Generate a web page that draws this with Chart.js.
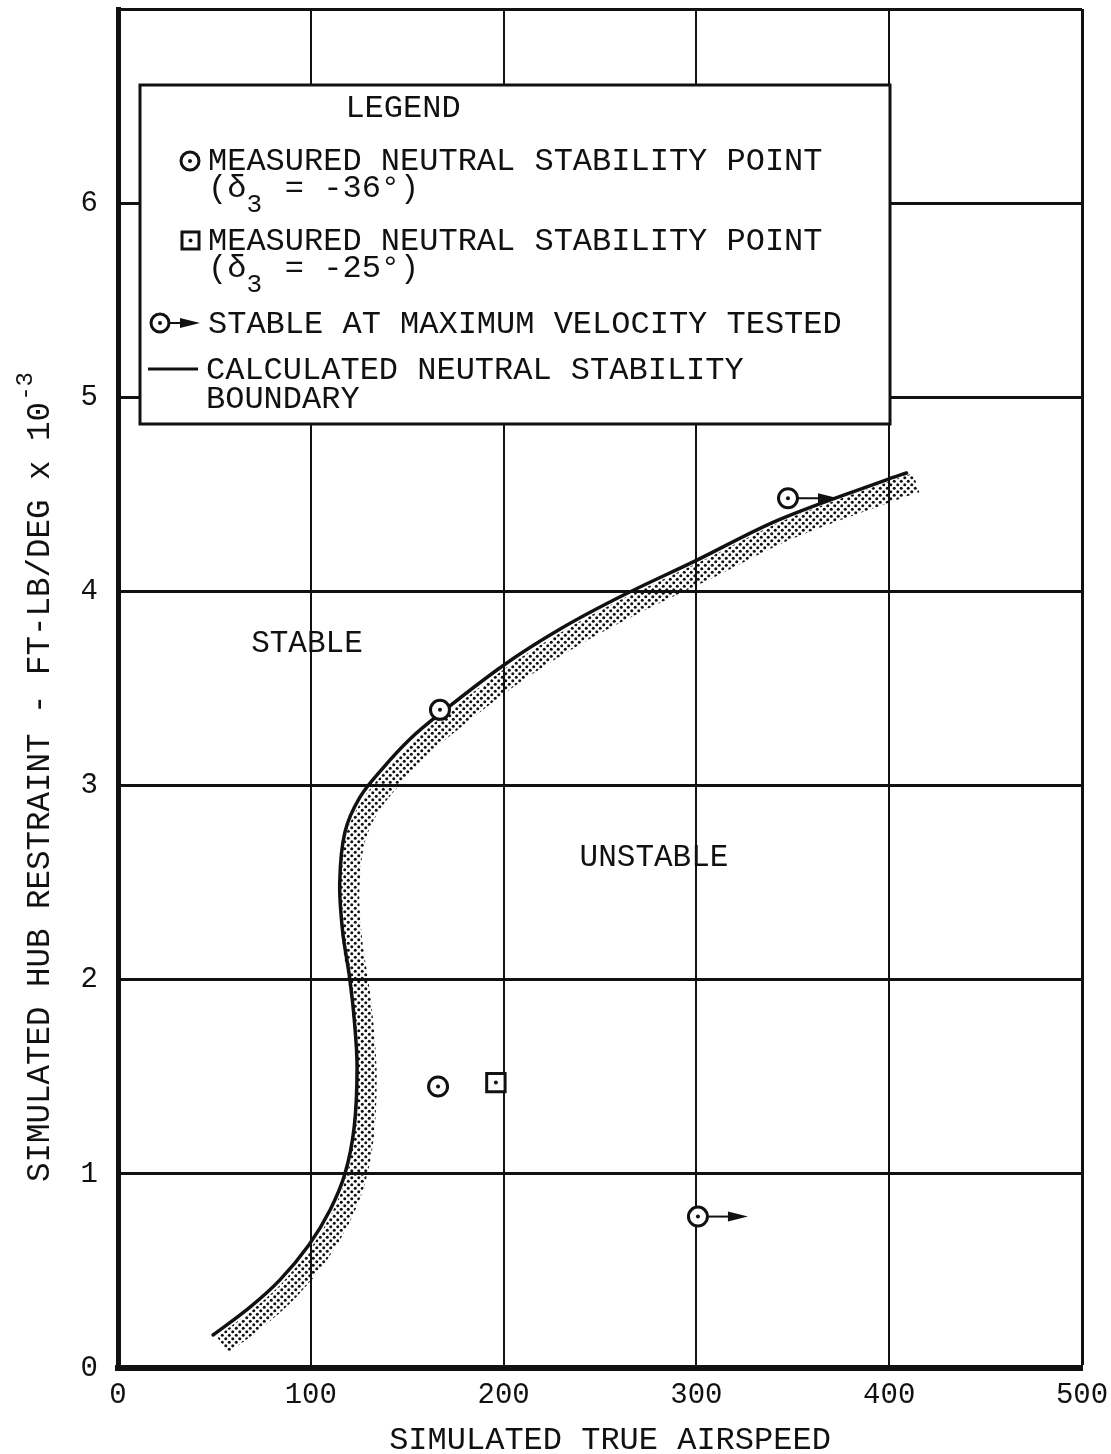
<!DOCTYPE html>
<html>
<head>
<meta charset="utf-8">
<script src="https://cdn.jsdelivr.net/npm/chart.js@4.4.1/dist/chart.umd.min.js"></script>
<style>
  html, body { margin: 0; padding: 0; background: #fff; }
  #wrap { width: 1111px; height: 1454px; }
</style>
</head>
<body>
<div id="wrap"><canvas id="hubChart" width="1111" height="1454"></canvas></div>
<script>
// calculated neutral stability boundary
let boundaryX = [49.3, 68.5, 84, 99, 110, 117.7, 122.5, 124, 122.5, 120, 116.5, 115, 117.7, 125.5, 137.4, 151.5, 167, 200, 230, 262, 300, 343, 400, 409]
let boundaryY = [0.17, 0.314, 0.454, 0.634, 0.814, 1.0, 1.24, 1.55, 1.8, 2.02, 2.25, 2.5, 2.76, 2.94, 3.09, 3.24, 3.37, 3.62, 3.81, 3.98, 4.16, 4.37, 4.58, 4.61]

// measured neutral stability points, delta3 = -36 deg
let measured36X = [167, 166]
let measured36Y = [3.39, 1.45]
// measured neutral stability points, delta3 = -25 deg
let measured25X = [196]
let measured25Y = [1.47]
// stable at maximum velocity tested
let stableX = [347.5, 300.8]
let stableY = [4.48, 0.78]

let xTicks = [0, 100, 200, 300, 400, 500]
let yTicks = [0, 1, 2, 3, 4, 5, 6]

const MONO = '"Liberation Mono", "DejaVu Sans Mono", monospace'
const INK = '#111'

function pts(xs, ys) {
  return xs.map((x, i) => ({ x: x, y: ys[i] }))
}

// stippled band on the unstable side of the boundary
let bandShiftX = 5
let bandShiftY = -0.05
let bandData = boundaryX.map((x, i) => ({ x: x + bandShiftX, y: boundaryY[i] + bandShiftY }))

let dotCanvas = document.createElement('canvas')
dotCanvas.width = 7
dotCanvas.height = 7
let dctx = dotCanvas.getContext('2d')
dctx.fillStyle = INK
dctx.beginPath(); dctx.arc(1.75, 1.75, 1.5, 0, Math.PI * 2); dctx.fill()
dctx.beginPath(); dctx.arc(5.25, 5.25, 1.5, 0, Math.PI * 2); dctx.fill()
let dotPattern = dctx.createPattern(dotCanvas, 'repeat')

function drawArrow(ctx, x, y, len) {
  ctx.save()
  ctx.strokeStyle = INK
  ctx.fillStyle = INK
  ctx.lineWidth = 2
  ctx.beginPath()
  ctx.moveTo(x + 10, y)
  ctx.lineTo(x + len - 16, y)
  ctx.stroke()
  ctx.beginPath()
  ctx.moveTo(x + len - 20, y - 5)
  ctx.lineTo(x + len, y)
  ctx.lineTo(x + len - 20, y + 5)
  ctx.closePath()
  ctx.fill()
  ctx.restore()
}

function ringMarker(ctx, x, y) {
  ctx.save()
  ctx.strokeStyle = INK
  ctx.fillStyle = '#fff'
  ctx.lineWidth = 3
  ctx.beginPath(); ctx.arc(x, y, 9, 0, Math.PI * 2); ctx.fill(); ctx.stroke()
  ctx.fillStyle = INK
  ctx.beginPath(); ctx.arc(x, y, 2, 0, Math.PI * 2); ctx.fill()
  ctx.restore()
}

function deltaLine(ctx, x, y, angle) {
  let cw = ctx.measureText('M').width
  ctx.fillText('(\u03b4', x, y)
  ctx.save()
  ctx.font = '26px ' + MONO
  ctx.fillText('3', x + 2 * cw, y + 16)
  ctx.restore()
  ctx.fillText(' = -' + angle + '\u00b0)', x + 3 * cw, y)
}

const decorPlugin = {
  id: 'decor',
  afterDatasetsDraw(chart) {
    let ctx = chart.ctx
    let xs = chart.scales.x, ys = chart.scales.y
    stableX.forEach((v, i) => {
      drawArrow(ctx, xs.getPixelForValue(v), ys.getPixelForValue(stableY[i]), 50)
    })
    ctx.save()
    ctx.fillStyle = INK
    ctx.font = '31px ' + MONO
    ctx.textAlign = 'center'
    ctx.textBaseline = 'middle'
    ctx.fillText('STABLE', xs.getPixelForValue(98), ys.getPixelForValue(3.73))
    ctx.fillText('UNSTABLE', xs.getPixelForValue(278), ys.getPixelForValue(2.63))
    ctx.restore()
  },
  afterDraw(chart) {
    let ctx = chart.ctx
    ctx.save()
    ctx.fillStyle = INK
    ctx.textBaseline = 'middle'
    ctx.font = '32px ' + MONO

    // axis titles
    ctx.textAlign = 'center'
    ctx.fillText('SIMULATED TRUE AIRSPEED', 610, 1441)
    ctx.save()
    ctx.translate(40, 1182)
    ctx.rotate(-Math.PI / 2)
    ctx.textAlign = 'left'
    ctx.font = '32.5px ' + MONO
    let yTitle = 'SIMULATED HUB RESTRAINT - FT-LB/DEG x 10'
    ctx.fillText(yTitle, 0, 0)
    let w = ctx.measureText(yTitle).width
    ctx.font = '24px ' + MONO
    ctx.fillText('-3', w + 1, -14)
    ctx.restore()

    // legend box
    ctx.fillStyle = '#fff'
    ctx.fillRect(140, 85, 750, 339)
    ctx.strokeStyle = INK
    ctx.lineWidth = 3
    ctx.strokeRect(140, 85, 750, 339)
    ctx.fillStyle = INK
    ctx.textAlign = 'center'
    ctx.fillText('LEGEND', 403, 109)
    ctx.textAlign = 'left'

    ringMarker(ctx, 190, 161)
    ctx.fillText('MEASURED NEUTRAL STABILITY POINT', 208, 162)
    deltaLine(ctx, 208, 189, '36')

    ctx.save()
    ctx.lineWidth = 3
    ctx.strokeRect(182, 232, 17, 17)
    ctx.beginPath(); ctx.arc(190.5, 240.5, 2, 0, Math.PI * 2); ctx.fill()
    ctx.restore()
    ctx.fillText('MEASURED NEUTRAL STABILITY POINT', 208, 242)
    deltaLine(ctx, 208, 269, '25')

    ringMarker(ctx, 160, 323)
    drawArrow(ctx, 160, 323, 40)
    ctx.fillText('STABLE AT MAXIMUM VELOCITY TESTED', 208, 325)

    ctx.lineWidth = 3
    ctx.beginPath(); ctx.moveTo(148, 369); ctx.lineTo(198, 369); ctx.stroke()
    ctx.fillText('CALCULATED NEUTRAL STABILITY', 206, 371)
    ctx.fillText('BOUNDARY', 206, 400)
    ctx.restore()
  }
}

let ctx = document.getElementById('hubChart').getContext('2d')
let hubChart = new Chart(ctx, {
  type: 'scatter',
  data: {
    datasets: [
      {
        label: 'centres',
        data: pts(measured36X.concat(measured25X, stableX), measured36Y.concat(measured25Y, stableY)),
        pointRadius: 2, pointBackgroundColor: INK, pointBorderWidth: 0,
        order: 0
      },
      {
        label: 'measured -36',
        data: pts(measured36X, measured36Y),
        pointStyle: 'circle', pointRadius: 9.5, pointBorderWidth: 3,
        pointBorderColor: INK, pointBackgroundColor: '#fff',
        order: 1
      },
      {
        label: 'stable',
        data: pts(stableX, stableY),
        pointStyle: 'circle', pointRadius: 9.5, pointBorderWidth: 3,
        pointBorderColor: INK, pointBackgroundColor: '#fff',
        order: 1
      },
      {
        label: 'measured -25',
        data: pts(measured25X, measured25Y),
        pointStyle: 'rect', pointRadius: 13, pointBorderWidth: 3,
        pointBorderColor: INK, pointBackgroundColor: '#fff',
        order: 1
      },
      {
        label: 'boundary',
        data: pts(boundaryX, boundaryY),
        showLine: true, borderColor: INK, borderWidth: 3.5,
        pointRadius: 0, tension: 0.35, borderCapStyle: 'round',
        order: 2
      },
      {
        label: 'band',
        data: bandData,
        showLine: true, borderColor: dotPattern, borderWidth: 20,
        pointRadius: 0, tension: 0.35,
        order: 3
      }
    ]
  },
  options: {
    responsive: false,
    animation: false,
    devicePixelRatio: 1,
    layout: { autoPadding: false, padding: { top: 9, right: 29, left: 0, bottom: 0 } },
    plugins: { legend: { display: false }, tooltip: { enabled: false } },
    scales: {
      x: {
        type: 'linear', min: 0, max: 500,
        afterFit(scale) {
          scale.height = 86
          scale.paddingLeft = 0
          scale.paddingRight = 0
        },
        afterBuildTicks(scale) { scale.ticks = xTicks.map(v => ({ value: v })) },
        ticks: {
          color: INK, padding: 10,
          font: { family: MONO, size: 29 },
          callback: v => String(v)
        },
        grid: {
          color: INK, drawTicks: false,
          lineWidth: c => (c.tick && c.tick.value === 500 ? 3 : 2)
        },
        border: { color: INK, width: 6 }
      },
      y: {
        type: 'linear', min: 0, max: 7,
        afterFit(scale) {
          scale.width = 118
          scale.paddingTop = 0
          scale.paddingBottom = 0
        },
        afterBuildTicks(scale) { scale.ticks = yTicks.concat([7]).map(v => ({ value: v })) },
        ticks: {
          color: INK, padding: 20,
          font: c => ({ family: MONO, size: (c.tick && c.tick.value === 7) ? 2 : 29 }),
          callback: v => (yTicks.indexOf(v) >= 0 ? String(v) : '')
        },
        grid: { color: INK, drawTicks: false, lineWidth: 3 },
        border: { color: INK, width: 5 }
      }
    }
  },
  plugins: [decorPlugin]
})
</script>
</body>
</html>
